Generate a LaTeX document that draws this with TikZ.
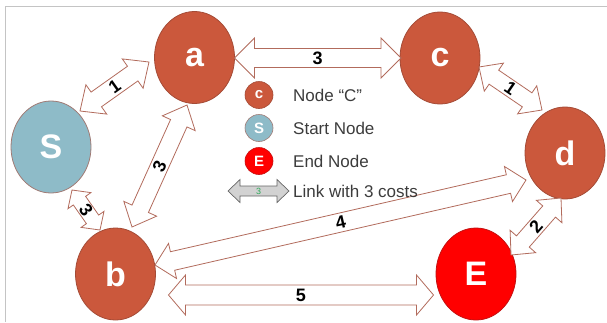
\documentclass[tikz,border=0pt]{standalone}
\usepackage{fontspec}
\setmainfont{Liberation Sans}
\usetikzlibrary{calc,shapes.geometric}

\definecolor{nodefill}{HTML}{CB583C}
\definecolor{nodeedge}{HTML}{A44B36}
\definecolor{startfill}{HTML}{8EBBC8}
\definecolor{startedge}{HTML}{A07A74}
\definecolor{endfill}{HTML}{FF0000}
\definecolor{endedge}{HTML}{C41010}
\definecolor{linkedge}{HTML}{B26B5C}
\definecolor{legendtext}{HTML}{3C3C3C}
\definecolor{framecol}{HTML}{C4C4C4}
\definecolor{costgreen}{HTML}{2FA85A}

\tikzset{
  vertex/.style={ellipse, minimum width=80pt, minimum height=92pt, inner sep=0pt,
    line width=0.8pt, text=white, font=\fontsize{34}{34}\selectfont\bfseries},
  plain/.style={vertex, fill=nodefill, draw=nodeedge},
  startv/.style={vertex, fill=startfill, draw=startedge},
  endv/.style={vertex, fill=endfill, draw=endedge},
  keydot/.style={ellipse, minimum width=28pt, minimum height=27pt, inner sep=0pt,
    line width=0.6pt, text=white, font=\fontsize{15}{15}\selectfont\bfseries},
  keytext/.style={anchor=west, inner sep=0pt, text=legendtext,
    font=\fontsize{17}{17}\selectfont},
  linkarrow/.style={draw=linkedge, fill=white, line width=0.8pt, line join=miter},
  keyarrow/.style={draw=gray!80!black, fill=gray!35, line width=0.7pt, line join=miter},
  costlabel/.style={inner sep=0pt, font=\fontsize{18}{18}\selectfont\bfseries, text=black},
}

% Double-headed block arrow between two named points:
% #1 from, #2 to, #3 head half-width, #4 shaft half-width, #5 head length,
% #6 style, #7 label style, #8 label
\newcommand{\blockarrow}[8]{%
  \coordinate (bp) at ($(#1)!#5!(#2)$);
  \coordinate (bq) at ($(#2)!#5!(#1)$);
  \draw[#6] (#1) -- ($(bp)!#3!90:(#2)$) -- ($(bp)!#4!90:(#2)$)
    -- ($(bq)!#4!-90:(#1)$) -- ($(bq)!#3!-90:(#1)$) -- (#2)
    -- ($(bq)!#3!90:(#1)$) -- ($(bq)!#4!90:(#1)$)
    -- ($(bp)!#4!-90:(#2)$) -- ($(bp)!#3!-90:(#2)$) -- cycle;
  \path (#1) -- (#2) node[midway, sloped, #7] {#8};
}

\begin{document}
\begin{tikzpicture}[x=1pt, y=-1pt]
  \useasboundingbox (0,0) rectangle (607,322);

  % page frame
  \draw[framecol, line width=1.5pt] (5.5,322) -- (5.5,6.5) -- (607,6.5);

  % graph vertices
  \node[plain]  (a) at (194.5,57.5) {a};
  \node[plain]  (c) at (440,58)     {c};
  \node[startv] (S) at (51,147)     {S};
  \node[plain]  (d) at (565,153)    {d};
  \node[plain]  (b) at (115.5,274)  {b};
  \node[endv]   (E) at (476,274)    {E};

  % arrow tips next to the vertices
  \coordinate (Sa1) at ($(S)+(29,-36)$);
  \coordinate (Sa2) at ($(a)+(-45.5,4.5)$);
  \coordinate (ac1) at ($(a)+(40,0.5)$);
  \coordinate (ac2) at ($(c)+(-39,0)$);
  \coordinate (cd1) at ($(c)+(39,9)$);
  \coordinate (cd2) at ($(d)+(-23,-43)$);
  \coordinate (dE1) at ($(d)+(-4,45)$);
  \coordinate (dE2) at ($(E)+(35,-19)$);
  \coordinate (bd1) at ($(b)+(39.5,-9)$);
  \coordinate (bd2) at ($(d)+(-39,27)$);
  \coordinate (bE1) at ($(b)+(53,21)$);
  \coordinate (bE2) at ($(E)+(-42.5,21)$);
  \coordinate (ab1) at ($(a)+(-7.5,47.5)$);
  \coordinate (ab2) at ($(b)+(16.5,-47)$);
  \coordinate (Sb1) at ($(S)+(21,43)$);
  \coordinate (Sb2) at ($(b)+(-15.5,-44)$);

  % weighted links
  \blockarrow{Sa1}{Sa2}{18pt}{9pt}{20pt}{linkarrow}{costlabel}{1}
  \blockarrow{ac1}{ac2}{20pt}{9.5pt}{20pt}{linkarrow}{costlabel}{3}
  \blockarrow{cd1}{cd2}{17pt}{8.5pt}{18pt}{linkarrow}{costlabel}{1}
  \blockarrow{dE1}{dE2}{17pt}{8.5pt}{18pt}{linkarrow}{costlabel}{2}
  \blockarrow{bd1}{bd2}{18pt}{9.5pt}{18pt}{linkarrow}{costlabel}{4}
  \blockarrow{bE1}{bE2}{20pt}{10pt}{17pt}{linkarrow}{costlabel}{5}
  \blockarrow{ab1}{ab2}{18pt}{9pt}{20pt}{linkarrow}{costlabel}{3}
  \blockarrow{Sb1}{Sb2}{14pt}{7.5pt}{13pt}{linkarrow}{costlabel}{3}

  % legend
  \node[keydot, fill=nodefill,  draw=nodeedge]  (kc) at (259,95)  {c};
  \node[keydot, fill=startfill, draw=startedge] (kS) at (259,128) {S};
  \node[keydot, fill=endfill,   draw=endedge]   (kE) at (259,161) {E};
  \node[keytext] (tc) at (293,95)  {Node “C”};
  \node[keytext] (tS) at (293,128) {Start Node};
  \node[keytext] (tE) at (293,161) {End Node};
  \coordinate (k1) at (228,191);
  \coordinate (k2) at (289,191);
  \blockarrow{k1}{k2}{11.5pt}{5pt}{12pt}{keyarrow}{inner sep=0pt, text=costgreen, font=\fontsize{9}{9}\selectfont}{3}
  \node[keytext] (tL) at (293,191) {Link with 3 costs};
\end{tikzpicture}
\end{document}
